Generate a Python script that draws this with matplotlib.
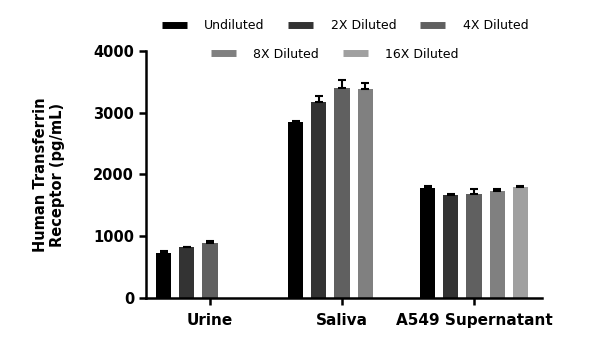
import matplotlib
matplotlib.use("Agg")
import matplotlib.pyplot as plt
from matplotlib.lines import Line2D
import numpy as np

categories = ["Urine", "Saliva", "A549 Supernatant"]
series = ["Undiluted", "2X Diluted", "4X Diluted", "8X Diluted", "16X Diluted"]
values = {
    "Undiluted":   [724, 2845, 1781],
    "2X Diluted":  [821, 3174, 1668],
    "4X Diluted":  [886, 3401, 1690],
    "8X Diluted":  [None, 3380, 1738],
    "16X Diluted": [None, None, 1798],
}
errors = {
    "Undiluted":   [40, 25, 28],
    "2X Diluted":  [10, 100, 15],
    "4X Diluted":  [30, 120, 70],
    "8X Diluted":  [None, 105, 20],
    "16X Diluted": [None, None, 15],
}
colors = ["#000000", "#333333", "#606060", "#808080", "#a0a0a0"]
yticks = [0, 1000, 2000, 3000, 4000]

plt.rcParams['font.family'] = ['DejaVu Sans']
fig = plt.figure(figsize=(6, 3.51), dpi=100)
ax = fig.add_axes([0.2433, 0.151, 0.66, 0.704])

slot = 0.175
width = 0.114
x = np.arange(len(categories))
for i, s in enumerate(series):
    for j in range(len(categories)):
        v = values[s][j]
        if v is None:
            continue
        xp = x[j] + (i - 2) * slot
        ax.bar(xp, v, width=width, color=colors[i], zorder=2)
        ax.errorbar(xp, v, yerr=[[0], [errors[s][j]]], fmt='none', ecolor='black',
                    elinewidth=1.5, capsize=3, capthick=1.5, zorder=3)

ax.set_xlim(-0.485, 2.515)
ax.set_ylim(0, 4000)
ax.set_yticks(yticks)
ax.set_yticklabels([str(t) for t in yticks], fontsize=10.5, fontweight='bold')
ax.set_xticks(x)
ax.set_xticklabels(categories, fontsize=11, fontweight='bold')
for sp in ['top', 'right']:
    ax.spines[sp].set_visible(False)
for sp in ['left', 'bottom']:
    ax.spines[sp].set_linewidth(1.8)
ax.tick_params(axis='both', width=1.8, length=5, direction='out')
ax.tick_params(axis='x', pad=6)
ax.set_ylabel("Human Transferrin\nReceptor (pg/mL)", fontsize=10.5, fontweight='bold', labelpad=20)

def handles(idx):
    return [Line2D([0], [0], color=colors[k], lw=5, solid_capstyle='butt') for k in idx]

leg1 = fig.legend(handles([0, 1, 2]), series[:3], loc='center', bbox_to_anchor=(0.575, 0.926),
                  ncol=3, frameon=False, fontsize=9, handlelength=2.0, columnspacing=1.9,
                  handletextpad=1.4)
leg2 = ax.legend(handles([3, 4]), series[3:], loc='center', bbox_to_anchor=(0.558, 0.846),
                 bbox_transform=fig.transFigure,
                 ncol=2, frameon=False, fontsize=9, handlelength=2.0, columnspacing=1.9,
                 handletextpad=1.4)

fig.savefig("out.png", dpi=100)
